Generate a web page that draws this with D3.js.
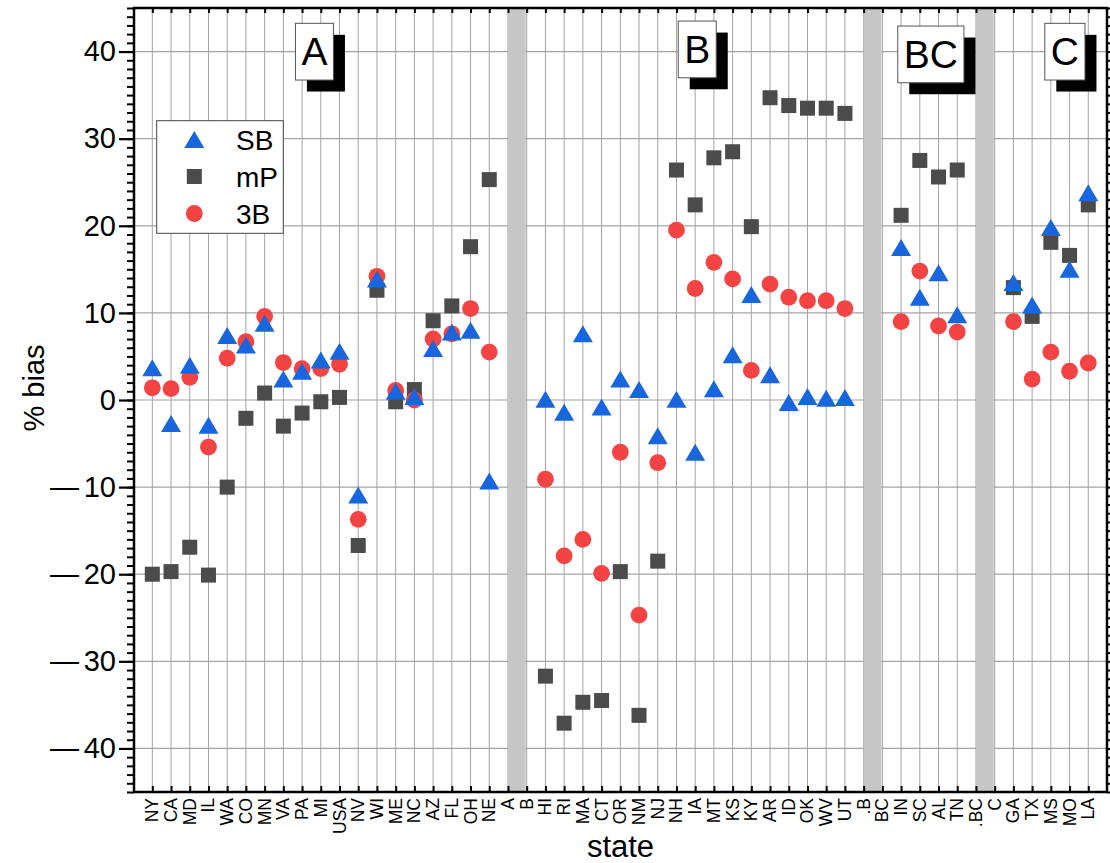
<!DOCTYPE html>
<html>
<head>
<meta charset="utf-8">
<script src="https://cdn.jsdelivr.net/npm/d3@7"></script>
<style>
  html, body { margin: 0; padding: 0; background: #fff; }
  svg { display: block; font-family: "Liberation Sans", Arial, sans-serif; }
</style>
</head>
<body>
<svg id="chart" width="1110" height="863"></svg>
<script>
// Category labels along the x axis (group separators included)
const categories = ["NY","CA","MD","IL","WA","CO","MN","VA","PA","MI","USA","NV","WI","ME","NC","AZ","FL","OH","NE",
  "A","B",
  "HI","RI","MA","CT","OR","NM","NJ","NH","IA","MT","KS","KY","AR","ID","OK","WV","UT",
  ".B","BC",
  "IN","SC","AL","TN",
  ".BC","C",
  "GA","TX","MS","MO","LA"];

// Separator columns start at these category indices
const separators = [19, 38, 44];

// Series values (% bias); null where the category is a separator
const sbValues = [3.7,-2.7,4.0,-2.9,7.4,6.3,8.8,2.4,3.3,4.6,5.6,-10.9,13.9,1.0,0.4,5.9,7.8,8.0,-9.3,
  null,null,
  0.1,-1.4,7.6,-0.8,2.4,1.2,-4.1,0.1,-6.0,1.3,5.2,12.1,2.9,-0.3,0.4,0.2,0.3,
  null,null,
  17.5,11.8,14.6,9.8,
  null,null,
  13.5,10.9,19.8,15.0,23.8];

const mpValues = [-20.0,-19.7,-16.9,-20.1,-10.0,-2.1,0.8,-3.0,-1.5,-0.2,0.3,-16.7,12.6,-0.2,1.2,9.1,10.8,17.6,25.3,
  null,null,
  -31.7,-37.1,-34.7,-34.5,-19.7,-36.2,-18.5,26.4,22.4,27.8,28.5,19.9,34.7,33.8,33.5,33.5,32.9,
  null,null,
  21.2,27.5,25.6,26.4,
  null,null,
  12.9,9.6,18.1,16.6,22.4];

const b3Values = [1.4,1.3,2.6,-5.4,4.8,6.7,9.6,4.3,3.6,3.6,4.1,-13.7,14.2,1.1,0.0,7.0,7.6,10.5,5.5,
  null,null,
  -9.1,-17.9,-16.0,-19.9,-6.0,-24.7,-7.2,19.5,12.8,15.8,13.9,3.4,13.3,11.8,11.4,11.4,10.5,
  null,null,
  9.0,14.8,8.5,7.8,
  null,null,
  9.0,2.4,5.5,3.3,4.25];

// Group labels shown in shadowed boxes at the top of each group
const groupNames = ["A", "B", "BC", "C"];

const yMajor = [-40,-30,-20,-10,0,10,20,30,40];

// ---------------------------------------------------------------
const svg = d3.select("#chart");
const plot = { left: 134, right: 1107, top: 8, bottom: 792 };

const x = d3.scaleLinear().domain([-1, categories.length]).range([133.6, plot.right]);
const y = d3.scaleLinear().domain([-45, 45]).range([plot.bottom, plot.top]);

const colors = { sb: "#1866dd", mp: "#4b4b4b", b3: "#f44343" };

// grid
const grid = svg.append("g");
grid.selectAll("line.v").data(d3.range(categories.length)).join("line")
  .attr("x1", d => x(d)).attr("x2", d => x(d))
  .attr("y1", plot.top).attr("y2", plot.bottom)
  .attr("stroke", "#a3a3a3").attr("stroke-width", 1);
grid.selectAll("line.h").data(yMajor).join("line")
  .attr("x1", plot.left).attr("x2", plot.right)
  .attr("y1", d => y(d)).attr("y2", d => y(d))
  .attr("stroke", "#a3a3a3").attr("stroke-width", 1.2);

// separator columns
svg.append("g").selectAll("rect").data(separators).join("rect")
  .attr("x", d => x(d))
  .attr("width", d => x(d + 1) - x(d) - 1)
  .attr("y", plot.top).attr("height", plot.bottom - plot.top)
  .attr("fill", "#c6c6c6");

// group label boxes with drop shadow
const groupBoxes = [
  { name: groupNames[0], c: 8.66,  top: 43.24 },
  { name: groupNames[1], c: 29.11, top: 43.5 },
  { name: groupNames[2], c: 41.59, top: 42.93 },
  { name: groupNames[3], c: 48.75, top: 43.24 }
];
const gLab = svg.append("g");
groupBoxes.forEach(b => {
  const g = gLab.append("g");
  const t = g.append("text").text(b.name)
    .attr("font-size", 39).attr("text-anchor", "middle")
    .attr("x", x(b.c)).attr("y", y(b.top) + 28 + 14);
  const tw = t.node().getComputedTextLength();
  const w = tw + 12, h = 56.7;
  const bx = x(b.c) - w / 2, by = y(b.top);
  g.insert("rect", "text").attr("x", bx + 11.5).attr("y", by + 11.5)
    .attr("width", w).attr("height", h).attr("fill", "#000");
  g.insert("rect", "text").attr("x", bx).attr("y", by)
    .attr("width", w).attr("height", h)
    .attr("fill", "#fff").attr("stroke", "#555").attr("stroke-width", 1);
});

// marker shapes
const triSide = 20, triH = 17;
const triPath = `M0,${-triH/2}L${triSide/2},${triH/2}L${-triSide/2},${triH/2}Z`;
const sq = 15, circR = 8.4;

const idx = d3.range(categories.length);

svg.append("g").selectAll("rect").data(idx.filter(i => mpValues[i] != null)).join("rect")
  .attr("x", i => x(i) - sq / 2).attr("y", i => y(mpValues[i]) - sq / 2)
  .attr("width", sq).attr("height", sq).attr("fill", colors.mp);

svg.append("g").selectAll("circle").data(idx.filter(i => b3Values[i] != null)).join("circle")
  .attr("cx", i => x(i)).attr("cy", i => y(b3Values[i]))
  .attr("r", circR).attr("fill", colors.b3);

svg.append("g").selectAll("path").data(idx.filter(i => sbValues[i] != null)).join("path")
  .attr("transform", i => `translate(${x(i)},${y(sbValues[i])})`)
  .attr("d", triPath).attr("fill", colors.sb);

// axes: negative tick labels use a long dash followed by a narrow gap
const fmt = d => d < 0 ? "\u2014\u2006" + Math.abs(d) : String(d);

const yLeft = svg.append("g").attr("transform", `translate(${plot.left},0)`)
  .call(d3.axisLeft(y).tickValues(yMajor).tickSize(15).tickPadding(3).tickFormat(fmt));
yLeft.select(".domain").remove();
yLeft.selectAll("line").attr("stroke", "#000").attr("stroke-width", 2.2);
yLeft.selectAll("text").attr("font-size", 29).attr("fill", "#000")
  .attr("font-family", "'Liberation Sans', Arial, sans-serif");

const yLeftMinor = svg.append("g").attr("transform", `translate(${plot.left},0)`)
  .call(d3.axisLeft(y).tickValues(d3.range(-45, 46)).tickSize(7).tickFormat(""));
yLeftMinor.select(".domain").remove();
yLeftMinor.selectAll("line").attr("stroke", "#000").attr("stroke-width", 2);

const yRight = svg.append("g").attr("transform", `translate(${plot.right},0)`)
  .call(d3.axisRight(y).tickValues(d3.range(-45, 46)).tickSize(7).tickFormat(""));
yRight.select(".domain").remove();
yRight.selectAll("line").attr("stroke", "#000").attr("stroke-width", 2);

const xBottom = svg.append("g").attr("transform", `translate(0,${plot.bottom})`)
  .call(d3.axisBottom(x).tickValues(idx).tickSizeInner(-6).tickSizeOuter(0).tickFormat(""));
xBottom.select(".domain").remove();
xBottom.selectAll("line").attr("stroke", "#000").attr("stroke-width", 2);

const xTop = svg.append("g").attr("transform", `translate(0,${plot.top})`)
  .call(d3.axisTop(x).tickValues(idx).tickSizeInner(-5).tickSizeOuter(0).tickFormat(""));
xTop.select(".domain").remove();
xTop.selectAll("line").attr("stroke", "#000").attr("stroke-width", 2);

// rotated category labels
svg.append("g").selectAll("text").data(idx).join("text")
  .attr("transform", i => `translate(${x(i) + 6},${plot.bottom + 6}) rotate(-90)`)
  .attr("text-anchor", "end")
  .attr("font-size", 17.5)
  .text(i => categories[i]);

// frame
svg.append("rect")
  .attr("x", plot.left).attr("y", plot.top)
  .attr("width", plot.right - plot.left).attr("height", plot.bottom - plot.top)
  .attr("fill", "none").attr("stroke", "#000").attr("stroke-width", 2.5);

// axis titles
svg.append("text").attr("transform", "translate(44,388) rotate(-90)")
  .attr("text-anchor", "middle").attr("font-size", 29).text("% bias");
svg.append("text").attr("x", (plot.left + plot.right) / 2).attr("y", 857)
  .attr("text-anchor", "middle").attr("font-size", 31).text("state");

// legend
const legend = svg.append("g");
legend.append("rect").attr("x", 156.7).attr("y", 120.7).attr("width", 126.6).attr("height", 112.6)
  .attr("fill", "#fff").attr("stroke", "#444").attr("stroke-width", 1);
const legendItems = [
  { key: "SB", kind: "tri", color: colors.sb },
  { key: "mP", kind: "sq", color: colors.mp },
  { key: "3B", kind: "circ", color: colors.b3 }
];
legendItems.forEach((it, k) => {
  const cy = 139.5 + k * 37;
  const mx = 194.3;
  if (it.kind === "tri") legend.append("path").attr("transform", `translate(${mx},${cy})`).attr("d", triPath).attr("fill", it.color);
  if (it.kind === "sq") legend.append("rect").attr("x", mx - sq/2).attr("y", cy - sq/2).attr("width", sq).attr("height", sq).attr("fill", it.color);
  if (it.kind === "circ") legend.append("circle").attr("cx", mx).attr("cy", cy).attr("r", circR).attr("fill", it.color);
  legend.append("text").attr("x", 236).attr("y", cy + 10).attr("font-size", 28).text(it.key);
});
</script>
</body>
</html>
